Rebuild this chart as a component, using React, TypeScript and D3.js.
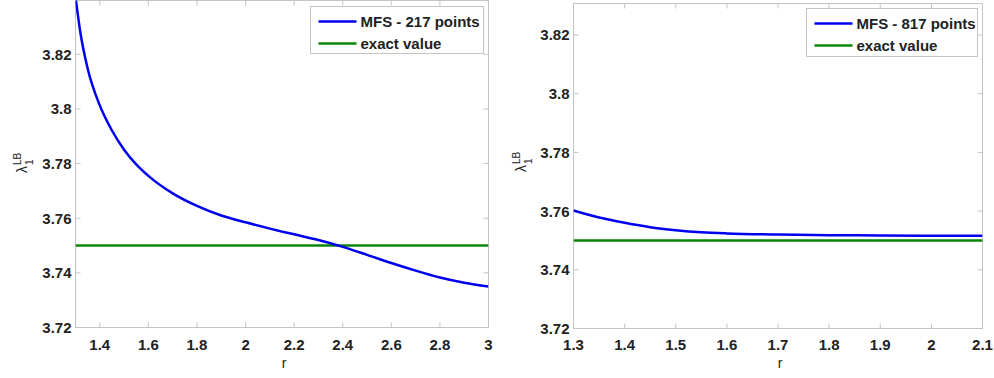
import * as d3 from "d3";
import React from "react";

// values
const leftR = [1.3, 1.32, 1.35, 1.4, 1.45, 1.5, 1.55, 1.6, 1.7, 1.8, 1.9, 2.0, 2.1, 2.2, 2.3, 2.4, 2.5, 2.6, 2.7, 2.8, 2.9, 3.0];
const leftMFS = [3.841, 3.828, 3.8148, 3.8013, 3.7921, 3.7851, 3.7797, 3.7755, 3.7691, 3.7645, 3.761, 3.7585, 3.7562, 3.7541, 3.752, 3.7495, 3.7466, 3.7436, 3.7408, 3.7383, 3.7364, 3.735];
const rightR = [1.3, 1.35, 1.4, 1.45, 1.5, 1.55, 1.6, 1.7, 1.8, 1.9, 2.0, 2.1];
const rightMFS = [3.7602, 3.7578, 3.756, 3.7545, 3.7535, 3.7528, 3.7524, 3.752, 3.7518, 3.7517, 3.7516, 3.7516];
const exactValue = 3.75;

const yTicks = [3.72, 3.74, 3.76, 3.78, 3.8, 3.82];
const leftXTicks = [1.4, 1.6, 1.8, 2, 2.2, 2.4, 2.6, 2.8, 3];
const rightXTicks = [1.3, 1.4, 1.5, 1.6, 1.7, 1.8, 1.9, 2, 2.1];
const leftLegend = ["MFS - 217 points", "exact value"];
const rightLegend = ["MFS - 817 points", "exact value"];

const BLUE = "#0000f0";
const GREEN = "#0a850a";
const FRAME = "#c4c4c4";
const FONT = "'Liberation Sans', Arial, sans-serif";

const Panel = ({id, r, mfs, xDomain, xTicks, legend, box, y382, legendBox, labelPos}) => {
    const x = d3.scaleLinear().domain(xDomain).range([box.left, box.right]);
    const y = d3.scaleLinear().domain([3.72, 3.82]).range([box.bottom, y382]);
    const line = d3
        .line()
        .x(d => x(d[0]))
        .y(d => y(d[1]))
        .curve(d3.curveMonotoneX);
    const pts = r.map((v, i) => [v, mfs[i]]);
    const tick = 5;

    return (
        <g>
            <defs>
                <clipPath id={id}>
                    <rect x={box.left} y={box.top} width={box.right - box.left} height={box.bottom - box.top}/>
                </clipPath>
            </defs>
            <rect x={box.left} y={box.top} width={box.right - box.left} height={box.bottom - box.top}
                  fill="white" stroke={FRAME} strokeWidth={1}/>
            {xTicks.map(t => (
                <g key={"x" + t}>
                    <line x1={x(t)} x2={x(t)} y1={box.bottom} y2={box.bottom - tick} stroke={FRAME}/>
                    <line x1={x(t)} x2={x(t)} y1={box.top} y2={box.top + tick} stroke={FRAME}/>
                    <text x={x(t)} y={350} textAnchor="middle" fontFamily={FONT} fontWeight="bold"
                          fontSize={15} fill="#222">{String(t)}</text>
                </g>
            ))}
            {yTicks.map(t => (
                <g key={"y" + t}>
                    <line x1={box.left} x2={box.left + tick} y1={y(t)} y2={y(t)} stroke={FRAME}/>
                    <line x1={box.right} x2={box.right - tick} y1={y(t)} y2={y(t)} stroke={FRAME}/>
                    <text x={box.left - 4} y={y(t)} dy="0.36em" textAnchor="end" fontFamily={FONT}
                          fontWeight="bold" fontSize={15} fill="#222">{String(t)}</text>
                </g>
            ))}
            <g clipPath={`url(#${id})`}>
                <line x1={x(xDomain[0])} x2={x(xDomain[1])} y1={y(exactValue)} y2={y(exactValue)}
                      stroke={GREEN} strokeWidth={2.5}/>
                <path d={line(pts)} fill="none" stroke={BLUE} strokeWidth={2.5}/>
            </g>
            <text x={(box.left + box.right) / 2 + 2} y={368} textAnchor="middle" fontFamily={FONT}
                  fontSize={14} fill="#222">r</text>
            <g transform={`translate(${labelPos[0]},${labelPos[1]}) rotate(-90)`} fontFamily={FONT} fill="#222">
                <text x={0} y={0} fontSize={14}>λ</text>
                <text x={8} y={6} fontSize={10}>1</text>
                <text x={8} y={-6} fontSize={10}>LB</text>
            </g>
            <rect x={legendBox.x} y={legendBox.y} width={legendBox.w} height={legendBox.h}
                  fill="white" stroke={FRAME}/>
            {legend.map((name, i) => {
                const ly = legendBox.y + 15 + i * 22;
                return (
                    <g key={name}>
                        <line x1={legendBox.x + 8} x2={legendBox.x + 46} y1={ly} y2={ly}
                              stroke={i === 0 ? BLUE : GREEN} strokeWidth={2.5}/>
                        <text x={legendBox.x + 50} y={ly} dy="0.36em" fontFamily={FONT} fontWeight="bold"
                              fontSize={15} fill="#222">{name}</text>
                    </g>
                );
            })}
        </g>
    );
};

const App = () => {
    return (
        <svg width={994} height={378} style={{position: "absolute", left: 0, top: 0, background: "white"}}>
            <Panel id="clipL" r={leftR} mfs={leftMFS} xDomain={[1.3, 3]} xTicks={leftXTicks}
                   legend={leftLegend}
                   box={{left: 75.5, right: 488.5, top: 0.5, bottom: 327.5}} y382={54.3}
                   legendBox={{x: 310.5, y: 6.5, w: 173, h: 47}} labelPos={[27, 173]}/>
            <Panel id="clipR" r={rightR} mfs={rightMFS} xDomain={[1.3, 2.1]} xTicks={rightXTicks}
                   legend={rightLegend}
                   box={{left: 573.5, right: 982.5, top: 3.5, bottom: 328.5}} y382={35}
                   legendBox={{x: 806.5, y: 8.5, w: 171, h: 48}} labelPos={[526, 172]}/>
        </svg>
    );
};

export default App;
